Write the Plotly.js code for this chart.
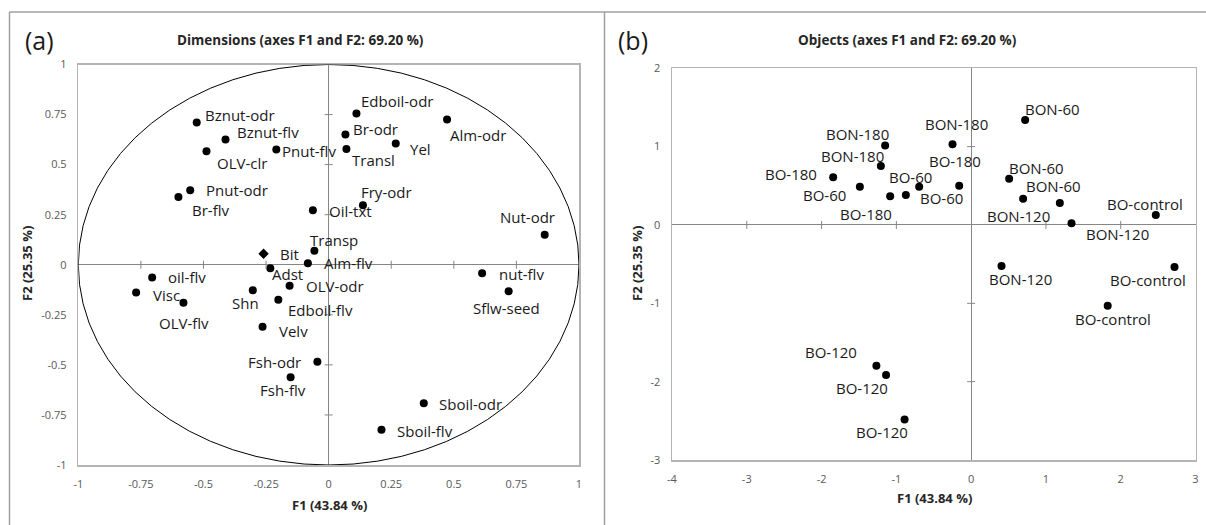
<!DOCTYPE html>
<html>
<head>
<meta charset="utf-8">
<script src="https://cdn.plot.ly/plotly-3.0.1.min.js"></script>
<style>html,body{margin:0;padding:0;background:#fff;}#chart{width:1206px;height:525px;}</style>
</head>
<body>
<div id="chart"></div>
<script>
// ---------- DATA ----------
// (a) Dimensions: variable coordinates on F1 / F2
const dimNames = ["Bznut-odr","Bznut-flv","OLV-clr","Pnut-flv","Pnut-odr","Br-flv","Adst","oil-flv","Visc",
  "Edboil-odr","Alm-odr","Br-odr","Yel","Transl","Fry-odr","Oil-txt","Nut-odr","Transp","Alm-flv","nut-flv",
  "OLV-odr","Sflw-seed","Shn","Edboil-flv","OLV-flv","Velv","Fsh-flv","Fsh-odr","Sboil-odr","Sboil-flv"];
const dimF1 = [-0.527,-0.412,-0.488,-0.209,-0.553,-0.600,-0.233,-0.705,-0.769,
  0.111,0.473,0.067,0.268,0.071,0.137,-0.063,0.863,-0.057,-0.083,0.613,
  -0.156,0.719,-0.303,-0.201,-0.580,-0.264,-0.152,-0.045,0.380,0.211];
const dimF2 = [0.710,0.625,0.567,0.575,0.372,0.338,-0.017,-0.064,-0.139,
  0.755,0.725,0.650,0.605,0.578,0.297,0.272,0.150,0.070,0.007,-0.042,
  -0.105,-0.132,-0.127,-0.175,-0.190,-0.309,-0.562,-0.484,-0.692,-0.824];
// supplementary variable (diamond marker)
const supNames = ["Bit"];
const supF1 = [-0.260];
const supF2 = [0.055];

// (b) Objects: observation coordinates on F1 / F2
const objNames = ["BON-180","BON-180","BO-180","BO-60","BO-180","BO-60","BO-60","BON-180","BO-180",
  "BON-60","BON-60","BON-120","BON-60","BON-120","BO-control","BON-120","BO-control","BO-control",
  "BO-120","BO-120","BO-120"];
const objF1 = [-1.150,-1.207,-1.845,-1.488,-1.083,-0.873,-0.695,-0.249,-0.160,
  0.722,0.508,0.695,1.186,1.342,2.469,0.406,2.719,1.826,
  -1.267,-1.138,-0.890];
const objF2 = [1.013,0.753,0.609,0.489,0.367,0.383,0.489,1.031,0.502,
  1.341,0.591,0.336,0.281,0.021,0.128,-0.524,-0.536,-1.031,
  -1.797,-1.916,-2.482];

// tick values / labels
const dimTicks = [-1,-0.75,-0.5,-0.25,0,0.25,0.5,0.75,1];
const dimTickText = ["-1","-0.75","-0.5","-0.25","0","0.25","0.5","0.75","1"];
const objXTicks = [-4,-3,-2,-1,0,1,2,3];
const objXTickText = ["-4","-3","-2","-1","0","1","2","3"];
const objYTicks = [-3,-2,-1,0,1,2];
const objYTickText = ["-3","-2","-1","0","1","2"];

// ---------- LABEL PLACEMENT (pixel offsets of label centre from its point: right, down) ----------
const dimLabelOffsets = [[43,-8],[42,-8],[36,12],[33,1],[47,0],[32,13],[17,6],[35,-1],[30,2],
  [41,-13],[31,15],[30,-6],[25,5],[27,11],[24,-13],[38,1],[-17,-18],[20,-11],[41,0],[39,1],
  [45,0],[-2,17],[-7,13],[42,10],[1,20],[31,4],[-8,13],[-43,0],[47,1],[44,1]];
const supLabelOffsets = [[26,0]];
const objLabelOffsets = [[-28,-12],[-28,-10],[-42,-3],[-35,8],[-24,18],[36,3],[-9,-10],[4,-20],[-4,-25],
  [27,-11],[27,-11],[-5,17],[-6,-17],[46,11],[-11,-11],[19,13],[-26,13],[5,13],
  [-45,-14],[-24,13],[-23,13]];

// ---------- LAYOUT ----------
const W = 1206, H = 525;
const FONT = "Open Sans, Noto Sans, sans-serif";
const px = v => v / W;
const py = v => 1 - v / H;
const ZERO = "#868686", BORDER = "#b4b4b4", TICKTXT = "#595959";

function axisBase(extra) {
  return Object.assign({
    showgrid: false, zeroline: true, zerolinecolor: ZERO, zerolinewidth: 1,
    showline: true, mirror: true, linecolor: BORDER, linewidth: 1.5,
    ticks: "", tickmode: "array", ticklabelstandoff: 8,
    tickfont: {family: FONT, size: 11, color: TICKTXT},
    fixedrange: true
  }, extra);
}

const layout = {
  width: W, height: H,
  margin: {l: 0, r: 0, t: 0, b: 0},
  paper_bgcolor: "#ffffff", plot_bgcolor: "#ffffff",
  showlegend: false,
  xaxis: axisBase({domain: [px(78.3), px(579)], range: [-1, 1], anchor: "y",
    tickvals: dimTicks, ticktext: dimTickText}),
  yaxis: axisBase({domain: [py(465), py(64.5)], range: [-1, 1], anchor: "x",
    tickvals: dimTicks, ticktext: dimTickText}),
  xaxis2: axisBase({domain: [px(672), px(1195.5)], range: [-4, 3], anchor: "y2",
    tickvals: objXTicks, ticktext: objXTickText}),
  yaxis2: axisBase({domain: [py(460), py(68.3)], range: [-3, 2], anchor: "x2",
    tickvals: objYTicks, ticktext: objYTickText}),
  shapes: [],
  annotations: []
};

// outer frame lines
const frame = {type: "line", xref: "paper", yref: "paper", line: {color: "#a0a0a0", width: 1.5}};
layout.shapes.push(Object.assign({x0: px(9.5), x1: 1, y0: py(12), y1: py(12)}, frame));
layout.shapes.push(Object.assign({x0: px(9.5), x1: px(9.5), y0: py(12), y1: 0}, frame));
layout.shapes.push(Object.assign({x0: px(604.5), x1: px(604.5), y0: py(12), y1: 0}, frame));

// correlation circle
layout.shapes.push({type: "circle", xref: "x", yref: "y", x0: -1, x1: 1, y0: -1, y1: 1,
  line: {color: "#000000", width: 1}, layer: "above"});

// tick crosses on the zero lines
function crossTicks(xs, ys, xr, yr) {
  xs.forEach(t => {
    if (t === 0) return;
    layout.shapes.push({type: "line", xref: xr, yref: yr, x0: t, x1: t,
      ysizemode: "pixel", yanchor: 0, y0: -4, y1: 4, line: {color: ZERO, width: 1}});
  });
  ys.forEach(t => {
    if (t === 0) return;
    layout.shapes.push({type: "line", xref: xr, yref: yr, y0: t, y1: t,
      xsizemode: "pixel", xanchor: 0, x0: -4, x1: 4, line: {color: ZERO, width: 1}});
  });
}
crossTicks(dimTicks.slice(1, -1), dimTicks.slice(1, -1), "x", "y");
crossTicks(objXTicks.slice(1, -1), objYTicks.slice(1, -1), "x2", "y2");

// point labels
function addLabels(names, xs, ys, offs, xr, yr) {
  names.forEach((n, i) => {
    layout.annotations.push({xref: xr, yref: yr, x: xs[i], y: ys[i], text: n, showarrow: false,
      xanchor: "center", yanchor: "middle", xshift: offs[i][0], yshift: -offs[i][1],
      font: {family: FONT, size: 15, color: "#1a1a1a"}});
  });
}
addLabels(dimNames, dimF1, dimF2, dimLabelOffsets, "x", "y");
addLabels(supNames, supF1, supF2, supLabelOffsets, "x", "y");
addLabels(objNames, objF1, objF2, objLabelOffsets, "x2", "y2");

// titles and captions
function note(text, x, y, size, extra) {
  layout.annotations.push(Object.assign({xref: "paper", yref: "paper", x: px(x), y: py(y), text: text,
    showarrow: false, xanchor: "center", yanchor: "middle",
    font: {family: FONT, size: size, color: "#262626"}}, extra || {}));
}
note("(a)", 39, 40, 25, {font: {family: FONT, size: 25, color: "#1a1a1a"}});
note("(b)", 633, 40, 25, {font: {family: FONT, size: 25, color: "#1a1a1a"}});
note("<b>Dimensions (axes F1 and F2: 69.20 %)</b>", 300, 40, 13.5);
note("<b>Objects (axes F1 and F2: 69.20 %)</b>", 907, 40, 13.5);
note("<b>F1 (43.84 %)</b>", 329, 505, 13);
note("<b>F1 (43.84 %)</b>", 934, 498, 13);
note("<b>F2 (25.35 %)</b>", 27, 264, 13, {textangle: -90});
note("<b>F2 (25.35 %)</b>", 637, 264, 13, {textangle: -90});

// ---------- TRACES ----------
const dotMarker = {symbol: "circle", size: 8, color: "#000000"};
const traces = [
  {type: "scatter", mode: "markers", x: dimF1, y: dimF2, xaxis: "x", yaxis: "y",
    marker: dotMarker, cliponaxis: false, hoverinfo: "text", text: dimNames},
  {type: "scatter", mode: "markers", x: supF1, y: supF2, xaxis: "x", yaxis: "y",
    marker: {symbol: "diamond", size: 8, color: "#000000"}, cliponaxis: false, hoverinfo: "text", text: supNames},
  {type: "scatter", mode: "markers", x: objF1, y: objF2, xaxis: "x2", yaxis: "y2",
    marker: dotMarker, cliponaxis: false, hoverinfo: "text", text: objNames}
];

Plotly.newPlot("chart", traces, layout, {displayModeBar: false, staticPlot: true});
</script>
</body>
</html>
